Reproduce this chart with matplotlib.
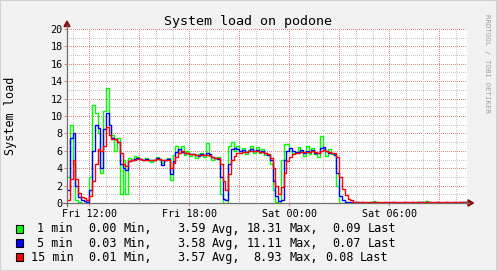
import numpy as np
import matplotlib
matplotlib.use('Agg')
import matplotlib.pyplot as plt
from matplotlib.patches import Rectangle, Polygon
from matplotlib.lines import Line2D

W, H = 497, 271
MONO = 'DejaVu Sans Mono'

# ---- data (10-minute samples starting Fri 10:40) ----
start_hour = 10 + 40 / 60
step_hours = 1 / 6

load_1min = [
    3.0, 9.0, 4.5, 0.3, 0.1, 0.05, 0.05, 0.1, 3.0, 11.3,
    10.3, 8.0, 3.5, 10.6, 13.2, 9.0, 7.8, 6.0, 7.5, 1.0,
    5.0, 1.0, 5.2, 5.0, 5.4, 5.3, 5.1, 5.0, 5.2, 5.0,
    4.7, 5.0, 5.3, 5.0, 4.6, 5.0, 5.2, 2.7, 5.5, 6.6,
    5.8, 6.6, 5.5, 6.0, 5.4, 5.6, 5.2, 5.6, 5.8, 5.3,
    6.9, 5.4, 5.0, 5.2, 5.3, 1.0, 0.0, 0.0, 6.5, 7.0,
    6.0, 6.5, 5.7, 6.3, 5.6, 6.1, 6.6, 5.8, 6.4, 5.7,
    6.2, 5.5, 5.6, 4.5, 1.5, 0.1, 0.0, 5.0, 6.8, 6.8,
    6.0, 5.8, 5.8, 6.4, 6.0, 5.4, 6.5, 5.6, 6.3, 5.6,
    5.3, 7.7, 6.2, 5.4, 6.2, 5.6, 5.6, 2.0, 0.05, 0.03,
    0.03, 0.03, 0.03, 0.05, 0.05, 0.04, 0.03, 0.05, 0.04, 0.03,
    0.25, 0.04, 0.03, 0.05, 0.04, 0.03, 0.04, 0.05, 0.03, 0.04,
    0.04, 0.03, 0.05, 0.04, 0.03, 0.04, 0.15, 0.03, 0.04, 0.2,
    0.04, 0.03, 0.05, 0.04, 0.03, 0.04, 0.05, 0.03, 0.04, 0.05,
    0.04, 0.05, 0.06, 0.09,
]
load_5min = [
    1.5, 7.5, 8.1, 2.0, 0.7, 0.4, 0.2, 0.1, 1.5, 6.0,
    9.0, 8.6, 4.0, 8.5, 10.4, 9.0, 7.5, 7.3, 7.0, 4.5,
    4.0, 3.8, 4.8, 5.0, 5.1, 5.2, 5.1, 5.0, 5.1, 5.0,
    4.9, 5.0, 5.2, 5.1, 4.4, 5.0, 5.1, 3.3, 4.8, 5.9,
    6.2, 5.9, 5.8, 5.7, 5.6, 5.6, 5.5, 5.4, 5.6, 5.5,
    5.8, 5.6, 5.3, 5.2, 5.1, 3.0, 0.5, 0.3, 4.5, 6.2,
    6.3, 6.2, 6.0, 6.1, 5.9, 6.0, 6.2, 6.0, 6.1, 5.9,
    6.0, 5.7, 5.5, 5.0, 2.5, 0.8, 0.2, 0.4, 5.0, 6.0,
    6.3, 6.0, 5.9, 5.9, 6.1, 5.8, 6.0, 5.9, 6.1, 5.8,
    5.8, 6.3, 6.4, 6.0, 5.8, 5.7, 5.5, 3.5, 0.8, 0.3,
    0.15, 0.1, 0.08, 0.06, 0.06, 0.05, 0.06, 0.05, 0.05, 0.06,
    0.08, 0.06, 0.05, 0.05, 0.06, 0.05, 0.05, 0.06, 0.05, 0.05,
    0.05, 0.06, 0.05, 0.05, 0.06, 0.05, 0.08, 0.06, 0.05, 0.08,
    0.06, 0.05, 0.05, 0.06, 0.05, 0.05, 0.06, 0.05, 0.05, 0.06,
    0.05, 0.06, 0.06, 0.07,
]
load_15min = [
    0.4, 2.8, 4.9, 2.8, 1.2, 0.7, 0.6, 0.4, 0.8, 2.5,
    4.5, 6.2, 6.0, 6.5, 8.7, 7.8, 7.4, 7.4, 7.0, 5.8,
    4.5, 4.2, 4.8, 4.9, 5.0, 5.1, 5.1, 5.0, 5.0, 5.0,
    5.0, 5.0, 5.1, 5.1, 5.0, 5.0, 5.0, 4.0, 4.6, 5.3,
    5.8, 6.0, 5.8, 5.7, 5.6, 5.6, 5.5, 5.5, 5.5, 5.5,
    5.5, 5.5, 5.3, 5.2, 5.2, 4.5, 2.5, 1.5, 3.3, 5.0,
    5.4, 5.8, 5.8, 5.9, 5.9, 6.0, 6.0, 6.0, 6.0, 5.9,
    5.9, 5.8, 5.6, 5.2, 4.0, 2.0, 1.0, 1.8, 3.5, 4.8,
    5.3, 5.6, 5.7, 5.8, 5.9, 5.9, 5.9, 5.9, 6.0, 5.9,
    5.8, 6.0, 6.1, 6.0, 5.9, 5.8, 5.7, 5.3, 3.0, 1.6,
    0.9, 0.5, 0.3, 0.15, 0.1, 0.08, 0.07, 0.07, 0.06, 0.07,
    0.08, 0.07, 0.07, 0.06, 0.07, 0.07, 0.06, 0.07, 0.07, 0.06,
    0.07, 0.07, 0.06, 0.07, 0.07, 0.06, 0.08, 0.07, 0.07, 0.08,
    0.07, 0.07, 0.06, 0.07, 0.07, 0.06, 0.07, 0.07, 0.06, 0.07,
    0.07, 0.07, 0.08, 0.08,
]

tick_hours = [12, 18, 24, 30]
tick_labels = ['Fri 12:00', 'Fri 18:00', 'Sat 00:00', 'Sat 06:00']
y_ticks = [0, 2, 4, 6, 8, 10, 12, 14, 16, 18, 20]

series_labels = ['1 min', '5 min', '15 min']
series_colors = ['#00FF00', '#0000FF', '#FF0000']
stat_min = ['0.00', '0.03', '0.01']
stat_avg = ['3.59', '3.58', '3.57']
stat_max = ['18.31', '11.11', '8.93']
stat_last = ['0.09', '0.07', '0.08']

title = 'System load on podone'
ylabel = 'System load'
watermark = 'RRDTOOL / TOBI OETIKER'

# ---- helpers ----
def fx(px):
    return px / W

def fy(py):
    return 1 - py / H

fig = plt.figure(figsize=(W / 100, H / 100), dpi=100, facecolor='#F2F2F2')
fig.patches.append(Rectangle((0, 0), 1, 1, transform=fig.transFigure,
                             facecolor='none', edgecolor='#D2D2D2', lw=1.5))

ax = fig.add_axes([fx(67), fy(203), 400 / W, 174 / H])
ax.set_facecolor('white')
for s in ax.spines.values():
    s.set_visible(False)

x_end = start_hour + 24
ax.set_xlim(start_hour, x_end)
ax.set_ylim(0, 20)

# grid (dotted)
minor_c = '#C4C4C4'
major_c = '#E08888'
for v in range(1, 21):
    ax.axhline(v, color=major_c if v % 2 == 0 else minor_c, lw=0.72,
               ls=(0.5, (1, 1)), zorder=1, snap=True)
for h in range(11, 35):
    ax.axvline(h, color=major_c if h % 3 == 0 else minor_c, lw=0.72,
               ls=(0.5, (1, 1)), zorder=1, snap=True)

# data lines
times = start_hour + np.arange(len(load_1min)) * step_hours
t_ext = np.append(times, x_end)
for vals, c in zip([load_1min, load_5min, load_15min], series_colors):
    v_ext = np.append(vals, vals[-1])
    ax.plot(t_ext, v_ext, drawstyle='steps-post', color=c, lw=1.0, zorder=3)

ax.set_xticks(tick_hours)
ax.set_xticklabels(tick_labels, fontfamily=MONO, fontsize=7.3)
ax.set_yticks(y_ticks)
ax.set_yticklabels([str(v) for v in y_ticks], fontfamily=MONO, fontsize=7.3)
ax.tick_params(axis='x', length=2, pad=2.5, color='#E08888')
ax.tick_params(axis='y', length=2, pad=1.2, color='#E08888')

# axis lines + arrows
axis_c = '#6E6E6E'
arrow_c = '#8B1010'
fig.add_artist(Line2D([fx(63), fx(469)], [fy(203), fy(203)], color=axis_c,
                      lw=0.9, transform=fig.transFigure))
fig.add_artist(Line2D([fx(67), fx(67)], [fy(206), fy(25)], color=axis_c,
                      lw=0.9, transform=fig.transFigure))
fig.add_artist(Polygon([[fx(468), fy(199.8)], [fx(473.5), fy(203)], [fx(468), fy(206.2)]],
                       closed=True, color=arrow_c, transform=fig.transFigure))
fig.add_artist(Polygon([[fx(64), fy(26.5)], [fx(67), fy(21)], [fx(70), fy(26.5)]],
                       closed=True, color=arrow_c, transform=fig.transFigure))

# texts
fig.text(fx(247.7), fy(25), title, ha='center', va='baseline',
         fontfamily=MONO, fontsize=9.6)
fig.text(fx(10.5), fy(116), ylabel, ha='center', va='center', rotation=90,
         fontfamily=MONO, fontsize=8.5)
fig.text(fx(487.5), fy(63), watermark, ha='center', va='center', rotation=270,
         fontfamily=MONO, fontsize=5.3, color='#A0A0A0')

# legend
row_base = [232.5, 246.7, 260.7]
row_sq = [225, 239.3, 253.3]
label_x = [36.7, 36.7, 30.7]
last_x = [332.3, 332.3, 325.0]
lastw_x = [367.7, 367.7, 360.0]
max_x = [246.7, 246.7, 253.3]
for i in range(3):
    fig.patches.append(Rectangle((fx(15.5), fy(row_sq[i] + 7.5)), 7.5 / W, 7.5 / H,
                                 transform=fig.transFigure, facecolor=series_colors[i],
                                 edgecolor='black', lw=0.8))
    yb = fy(row_base[i])
    kw = dict(va='baseline', ha='left', fontfamily=MONO, fontsize=8.5)
    fig.text(fx(label_x[i]), yb, series_labels[i], **kw)
    fig.text(fx(88.3), yb, stat_min[i], **kw)
    fig.text(fx(123.3), yb, 'Min,', **kw)
    fig.text(fx(176.7), yb, stat_avg[i], **kw)
    fig.text(fx(211.7), yb, 'Avg,', **kw)
    fig.text(fx(max_x[i]), yb, stat_max[i], **kw)
    fig.text(fx(290), yb, 'Max,', **kw)
    fig.text(fx(last_x[i]), yb, stat_last[i], **kw)
    fig.text(fx(lastw_x[i]), yb, 'Last', **kw)

fig.savefig('out.png', dpi=100, facecolor=fig.get_facecolor())
